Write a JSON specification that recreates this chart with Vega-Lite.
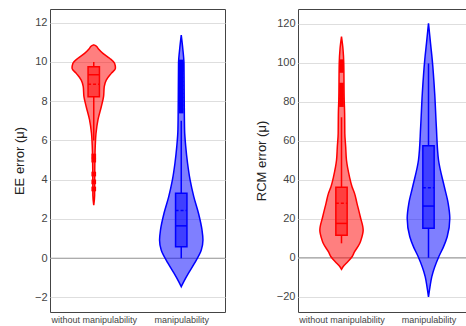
{
  "$schema": "https://vega.github.io/schema/vega-lite/v6.json",
  "padding": {"left": 12, "top": 8, "right": 0, "bottom": 0},
  "spacing": 28,
  "config": {
    "font": "Liberation Sans",
    "view": {"stroke": "#444", "strokeWidth": 1},
    "axisY": {"grid": true, "gridColor": "#dedede", "ticks": false, "domain": false, "labelFontSize": 11, "labelColor": "#444", "labelPadding": 3, "titleFontSize": 13, "titleFontWeight": "normal", "titleColor": "#222", "titlePadding": 8, "labelFont": "Liberation Sans", "titleFont": "Liberation Sans"},
    "axisX": {"grid": false, "ticks": false, "domain": false, "labelFontSize": 9, "labelColor": "#444", "labelPadding": 3, "labelFont": "Liberation Sans"}
  },
  "datasets": {
    "ee_violin": [
      {"g": "without manipulability", "y": 2.7, "lo": 0.5, "hi": 0.5},
      {"g": "without manipulability", "y": 3.2, "lo": 0.49, "hi": 0.51},
      {"g": "without manipulability", "y": 4.0, "lo": 0.489, "hi": 0.511},
      {"g": "without manipulability", "y": 5.0, "lo": 0.487, "hi": 0.513},
      {"g": "without manipulability", "y": 5.7, "lo": 0.483, "hi": 0.517},
      {"g": "without manipulability", "y": 6.37, "lo": 0.474, "hi": 0.526},
      {"g": "without manipulability", "y": 7.05, "lo": 0.452, "hi": 0.548},
      {"g": "without manipulability", "y": 7.72, "lo": 0.414, "hi": 0.586},
      {"g": "without manipulability", "y": 8.23, "lo": 0.388, "hi": 0.612},
      {"g": "without manipulability", "y": 8.74, "lo": 0.38, "hi": 0.62},
      {"g": "without manipulability", "y": 9.08, "lo": 0.357, "hi": 0.643},
      {"g": "without manipulability", "y": 9.42, "lo": 0.3, "hi": 0.7},
      {"g": "without manipulability", "y": 9.68, "lo": 0.252, "hi": 0.748},
      {"g": "without manipulability", "y": 9.93, "lo": 0.262, "hi": 0.738},
      {"g": "without manipulability", "y": 10.19, "lo": 0.319, "hi": 0.681},
      {"g": "without manipulability", "y": 10.44, "lo": 0.395, "hi": 0.605},
      {"g": "without manipulability", "y": 10.7, "lo": 0.452, "hi": 0.548},
      {"g": "without manipulability", "y": 10.82, "lo": 0.475, "hi": 0.525},
      {"g": "without manipulability", "y": 10.87, "lo": 0.5, "hi": 0.5},
      {"g": "manipulability", "y": -1.45, "lo": 1.5, "hi": 1.5},
      {"g": "manipulability", "y": -1.19, "lo": 1.471, "hi": 1.529},
      {"g": "manipulability", "y": -0.76, "lo": 1.417, "hi": 1.583},
      {"g": "manipulability", "y": -0.25, "lo": 1.348, "hi": 1.652},
      {"g": "manipulability", "y": 0.42, "lo": 1.271, "hi": 1.729},
      {"g": "manipulability", "y": 0.93, "lo": 1.252, "hi": 1.748},
      {"g": "manipulability", "y": 1.44, "lo": 1.263, "hi": 1.737},
      {"g": "manipulability", "y": 2.29, "lo": 1.303, "hi": 1.697},
      {"g": "manipulability", "y": 3.14, "lo": 1.357, "hi": 1.643},
      {"g": "manipulability", "y": 3.99, "lo": 1.399, "hi": 1.601},
      {"g": "manipulability", "y": 4.84, "lo": 1.428, "hi": 1.572},
      {"g": "manipulability", "y": 5.7, "lo": 1.449, "hi": 1.551},
      {"g": "manipulability", "y": 6.54, "lo": 1.462, "hi": 1.538},
      {"g": "manipulability", "y": 8.06, "lo": 1.466, "hi": 1.534},
      {"g": "manipulability", "y": 9.93, "lo": 1.469, "hi": 1.531},
      {"g": "manipulability", "y": 10.7, "lo": 1.483, "hi": 1.517},
      {"g": "manipulability", "y": 11.37, "lo": 1.5, "hi": 1.5}
    ],
    "rcm_violin": [
      {"g": "without manipulability", "y": -5.9, "lo": 0.5, "hi": 0.5},
      {"g": "without manipulability", "y": -4.0, "lo": 0.471, "hi": 0.529},
      {"g": "without manipulability", "y": -2.9, "lo": 0.448, "hi": 0.552},
      {"g": "without manipulability", "y": 0.5, "lo": 0.379, "hi": 0.621},
      {"g": "without manipulability", "y": 3.0, "lo": 0.351, "hi": 0.649},
      {"g": "without manipulability", "y": 7.4, "lo": 0.29, "hi": 0.71},
      {"g": "without manipulability", "y": 9.1, "lo": 0.276, "hi": 0.724},
      {"g": "without manipulability", "y": 14.2, "lo": 0.251, "hi": 0.749},
      {"g": "without manipulability", "y": 21.0, "lo": 0.284, "hi": 0.716},
      {"g": "without manipulability", "y": 27.9, "lo": 0.322, "hi": 0.678},
      {"g": "without manipulability", "y": 33.0, "lo": 0.35, "hi": 0.65},
      {"g": "without manipulability", "y": 36.4, "lo": 0.379, "hi": 0.621},
      {"g": "without manipulability", "y": 41.5, "lo": 0.408, "hi": 0.592},
      {"g": "without manipulability", "y": 50.1, "lo": 0.443, "hi": 0.557},
      {"g": "without manipulability", "y": 56.9, "lo": 0.452, "hi": 0.548},
      {"g": "without manipulability", "y": 63.8, "lo": 0.462, "hi": 0.538},
      {"g": "without manipulability", "y": 74.0, "lo": 0.464, "hi": 0.536},
      {"g": "without manipulability", "y": 81.0, "lo": 0.469, "hi": 0.531},
      {"g": "without manipulability", "y": 99.7, "lo": 0.474, "hi": 0.526},
      {"g": "without manipulability", "y": 107.0, "lo": 0.483, "hi": 0.517},
      {"g": "without manipulability", "y": 113.3, "lo": 0.5, "hi": 0.5},
      {"g": "manipulability", "y": -20.0, "lo": 1.5, "hi": 1.5},
      {"g": "manipulability", "y": -14.9, "lo": 1.483, "hi": 1.517},
      {"g": "manipulability", "y": -9.7, "lo": 1.462, "hi": 1.538},
      {"g": "manipulability", "y": 0.5, "lo": 1.382, "hi": 1.618},
      {"g": "manipulability", "y": 5.6, "lo": 1.328, "hi": 1.672},
      {"g": "manipulability", "y": 10.8, "lo": 1.285, "hi": 1.715},
      {"g": "manipulability", "y": 20.2, "lo": 1.255, "hi": 1.745},
      {"g": "manipulability", "y": 27.9, "lo": 1.274, "hi": 1.726},
      {"g": "manipulability", "y": 36.4, "lo": 1.318, "hi": 1.682},
      {"g": "manipulability", "y": 50.1, "lo": 1.385, "hi": 1.615},
      {"g": "manipulability", "y": 67.2, "lo": 1.41, "hi": 1.59},
      {"g": "manipulability", "y": 84.3, "lo": 1.429, "hi": 1.571},
      {"g": "manipulability", "y": 101.4, "lo": 1.457, "hi": 1.543},
      {"g": "manipulability", "y": 110.0, "lo": 1.477, "hi": 1.523},
      {"g": "manipulability", "y": 120.2, "lo": 1.5, "hi": 1.5}
    ],
    "ee_box": [
      {"g": "without manipulability", "x": 0.5, "xl": 0.435, "xr": 0.565, "q1": 8.23, "q3": 9.76, "med": 9.35, "mean": 8.86, "wlo": 6.0, "whi": 10.0},
      {"g": "manipulability", "x": 1.5, "xl": 1.435, "xr": 1.565, "q1": 0.59, "q3": 3.31, "med": 1.65, "mean": 2.43, "wlo": 0.0, "whi": 7.0}
    ],
    "rcm_box": [
      {"g": "without manipulability", "x": 0.5, "xl": 0.435, "xr": 0.565, "q1": 11.6, "q3": 36.1, "med": 17.6, "mean": 27.9, "wlo": 7.4, "whi": 72.0},
      {"g": "manipulability", "x": 1.5, "xl": 1.435, "xr": 1.565, "q1": 15.1, "q3": 57.4, "med": 26.5, "mean": 35.9, "wlo": 0.0, "whi": 99.6}
    ],
    "ee_out": [
      {"g": "without manipulability", "x": 0.5, "y": 5.21},
      {"g": "without manipulability", "x": 0.5, "y": 5.0},
      {"g": "without manipulability", "x": 0.5, "y": 4.29},
      {"g": "without manipulability", "x": 0.5, "y": 3.89},
      {"g": "without manipulability", "x": 0.5, "y": 3.53},
      {"g": "manipulability", "x": 1.5, "y": 10.0},
      {"g": "manipulability", "x": 1.5, "y": 9.9},
      {"g": "manipulability", "x": 1.5, "y": 9.8},
      {"g": "manipulability", "x": 1.5, "y": 9.7},
      {"g": "manipulability", "x": 1.5, "y": 9.6},
      {"g": "manipulability", "x": 1.5, "y": 9.5},
      {"g": "manipulability", "x": 1.5, "y": 9.3},
      {"g": "manipulability", "x": 1.5, "y": 9.1},
      {"g": "manipulability", "x": 1.5, "y": 8.9},
      {"g": "manipulability", "x": 1.5, "y": 8.7},
      {"g": "manipulability", "x": 1.5, "y": 8.5},
      {"g": "manipulability", "x": 1.5, "y": 8.3},
      {"g": "manipulability", "x": 1.5, "y": 8.1},
      {"g": "manipulability", "x": 1.5, "y": 7.9},
      {"g": "manipulability", "x": 1.5, "y": 7.7},
      {"g": "manipulability", "x": 1.5, "y": 7.5}
    ],
    "rcm_out": [
      {"g": "without manipulability", "x": 0.5, "y": 100.5},
      {"g": "without manipulability", "x": 0.5, "y": 99.0},
      {"g": "without manipulability", "x": 0.5, "y": 97.5},
      {"g": "without manipulability", "x": 0.5, "y": 96.0},
      {"g": "without manipulability", "x": 0.5, "y": 88.5},
      {"g": "without manipulability", "x": 0.5, "y": 86.5},
      {"g": "without manipulability", "x": 0.5, "y": 84.5},
      {"g": "without manipulability", "x": 0.5, "y": 82.5},
      {"g": "without manipulability", "x": 0.5, "y": 80.5},
      {"g": "without manipulability", "x": 0.5, "y": 78.5}
    ],
    "zero": [{"v": 0}]
  },
  "hconcat": [
    {
      "width": 175,
      "height": 303,
      "layer": [
        {
          "data": {"name": "zero"},
          "mark": {"type": "rule", "color": "#999", "strokeWidth": 1},
          "encoding": {
            "y": {"field": "v", "type": "quantitative", "scale": {"domain": [-2.74, 12.7], "nice": false, "zero": false}, "axis": {"title": "EE error (μ)"}}
          }
        },
        {
          "data": {"name": "ee_violin"},
          "mark": {"type": "area", "orient": "horizontal", "interpolate": "monotone", "fillOpacity": 0.5, "strokeWidth": 1.5},
          "encoding": {
            "x": {"field": "lo", "type": "quantitative", "stack": null, "scale": {"domain": [0, 2], "nice": false, "zero": false}, "axis": {"title": null, "values": [0.5, 1.5], "labelExpr": "datum.value < 1 ? 'without manipulability' : 'manipulability'"}},
            "x2": {"field": "hi"},
            "y": {"field": "y", "type": "quantitative", "axis": {"title": "EE error (μ)"}},
            "color": {"field": "g", "type": "nominal", "scale": {"domain": ["without manipulability", "manipulability"], "range": ["#ff0000", "#0000ff"]}, "legend": null},
            "stroke": {"field": "g", "type": "nominal", "scale": {"domain": ["without manipulability", "manipulability"], "range": ["#ff0000", "#0000ff"]}, "legend": null}
          }
        },
        {
          "data": {"name": "ee_box"},
          "mark": {"type": "rule", "strokeWidth": 1.5},
          "encoding": {
            "x": {"field": "x", "type": "quantitative", "axis": {"title": null}},
            "y": {"field": "wlo", "type": "quantitative", "axis": {"title": "EE error (μ)"}},
            "y2": {"field": "q1"},
            "color": {"field": "g", "type": "nominal", "legend": null}
          }
        },
        {
          "data": {"name": "ee_box"},
          "mark": {"type": "rule", "strokeWidth": 1.5},
          "encoding": {
            "x": {"field": "x", "type": "quantitative", "axis": {"title": null}},
            "y": {"field": "q3", "type": "quantitative", "axis": {"title": "EE error (μ)"}},
            "y2": {"field": "whi"},
            "color": {"field": "g", "type": "nominal", "legend": null}
          }
        },
        {
          "data": {"name": "ee_box"},
          "mark": {"type": "rect", "fillOpacity": 0.5, "strokeWidth": 1.5},
          "encoding": {
            "x": {"field": "xl", "type": "quantitative", "axis": {"title": null}},
            "x2": {"field": "xr"},
            "y": {"field": "q1", "type": "quantitative", "axis": {"title": "EE error (μ)"}},
            "y2": {"field": "q3"},
            "color": {"field": "g", "type": "nominal", "legend": null},
            "stroke": {"field": "g", "type": "nominal", "legend": null}
          }
        },
        {
          "data": {"name": "ee_box"},
          "mark": {"type": "rule", "strokeWidth": 1.5},
          "encoding": {
            "x": {"field": "xl", "type": "quantitative", "axis": {"title": null}},
            "x2": {"field": "xr"},
            "y": {"field": "med", "type": "quantitative", "axis": {"title": "EE error (μ)"}},
            "color": {"field": "g", "type": "nominal", "legend": null}
          }
        },
        {
          "data": {"name": "ee_box"},
          "mark": {"type": "rule", "strokeWidth": 1.5, "strokeDash": [3, 2]},
          "encoding": {
            "x": {"field": "xl", "type": "quantitative", "axis": {"title": null}},
            "x2": {"field": "xr"},
            "y": {"field": "mean", "type": "quantitative", "axis": {"title": "EE error (μ)"}},
            "color": {"field": "g", "type": "nominal", "legend": null}
          }
        },
        {
          "data": {"name": "ee_out"},
          "mark": {"type": "point", "shape": "square", "filled": true, "size": 22, "opacity": 1},
          "encoding": {
            "x": {"field": "x", "type": "quantitative", "axis": {"title": null}},
            "y": {"field": "y", "type": "quantitative", "axis": {"title": "EE error (μ)"}},
            "color": {"field": "g", "type": "nominal", "legend": null}
          }
        }
      ]
    },
    {
      "width": 174,
      "height": 303,
      "layer": [
        {
          "data": {"name": "zero"},
          "mark": {"type": "rule", "color": "#999", "strokeWidth": 1},
          "encoding": {
            "y": {"field": "v", "type": "quantitative", "scale": {"domain": [-27.8, 127.5], "nice": false, "zero": false}, "axis": {"title": "RCM error (μ)"}}
          }
        },
        {
          "data": {"name": "rcm_violin"},
          "mark": {"type": "area", "orient": "horizontal", "interpolate": "monotone", "fillOpacity": 0.5, "strokeWidth": 1.5},
          "encoding": {
            "x": {"field": "lo", "type": "quantitative", "stack": null, "scale": {"domain": [0, 2], "nice": false, "zero": false}, "axis": {"title": null, "values": [0.5, 1.5], "labelExpr": "datum.value < 1 ? 'without manipulability' : 'manipulability'"}},
            "x2": {"field": "hi"},
            "y": {"field": "y", "type": "quantitative", "axis": {"title": "RCM error (μ)"}},
            "color": {"field": "g", "type": "nominal", "scale": {"domain": ["without manipulability", "manipulability"], "range": ["#ff0000", "#0000ff"]}, "legend": null},
            "stroke": {"field": "g", "type": "nominal", "scale": {"domain": ["without manipulability", "manipulability"], "range": ["#ff0000", "#0000ff"]}, "legend": null}
          }
        },
        {
          "data": {"name": "rcm_box"},
          "mark": {"type": "rule", "strokeWidth": 1.5},
          "encoding": {
            "x": {"field": "x", "type": "quantitative", "axis": {"title": null}},
            "y": {"field": "wlo", "type": "quantitative", "axis": {"title": "RCM error (μ)"}},
            "y2": {"field": "q1"},
            "color": {"field": "g", "type": "nominal", "legend": null}
          }
        },
        {
          "data": {"name": "rcm_box"},
          "mark": {"type": "rule", "strokeWidth": 1.5},
          "encoding": {
            "x": {"field": "x", "type": "quantitative", "axis": {"title": null}},
            "y": {"field": "q3", "type": "quantitative", "axis": {"title": "RCM error (μ)"}},
            "y2": {"field": "whi"},
            "color": {"field": "g", "type": "nominal", "legend": null}
          }
        },
        {
          "data": {"name": "rcm_box"},
          "mark": {"type": "rect", "fillOpacity": 0.5, "strokeWidth": 1.5},
          "encoding": {
            "x": {"field": "xl", "type": "quantitative", "axis": {"title": null}},
            "x2": {"field": "xr"},
            "y": {"field": "q1", "type": "quantitative", "axis": {"title": "RCM error (μ)"}},
            "y2": {"field": "q3"},
            "color": {"field": "g", "type": "nominal", "legend": null},
            "stroke": {"field": "g", "type": "nominal", "legend": null}
          }
        },
        {
          "data": {"name": "rcm_box"},
          "mark": {"type": "rule", "strokeWidth": 1.5},
          "encoding": {
            "x": {"field": "xl", "type": "quantitative", "axis": {"title": null}},
            "x2": {"field": "xr"},
            "y": {"field": "med", "type": "quantitative", "axis": {"title": "RCM error (μ)"}},
            "color": {"field": "g", "type": "nominal", "legend": null}
          }
        },
        {
          "data": {"name": "rcm_box"},
          "mark": {"type": "rule", "strokeWidth": 1.5, "strokeDash": [3, 2]},
          "encoding": {
            "x": {"field": "xl", "type": "quantitative", "axis": {"title": null}},
            "x2": {"field": "xr"},
            "y": {"field": "mean", "type": "quantitative", "axis": {"title": "RCM error (μ)"}},
            "color": {"field": "g", "type": "nominal", "legend": null}
          }
        },
        {
          "data": {"name": "rcm_out"},
          "mark": {"type": "point", "shape": "square", "filled": true, "size": 22, "opacity": 1},
          "encoding": {
            "x": {"field": "x", "type": "quantitative", "axis": {"title": null}},
            "y": {"field": "y", "type": "quantitative", "axis": {"title": "RCM error (μ)"}},
            "color": {"field": "g", "type": "nominal", "legend": null}
          }
        }
      ]
    }
  ]
}
